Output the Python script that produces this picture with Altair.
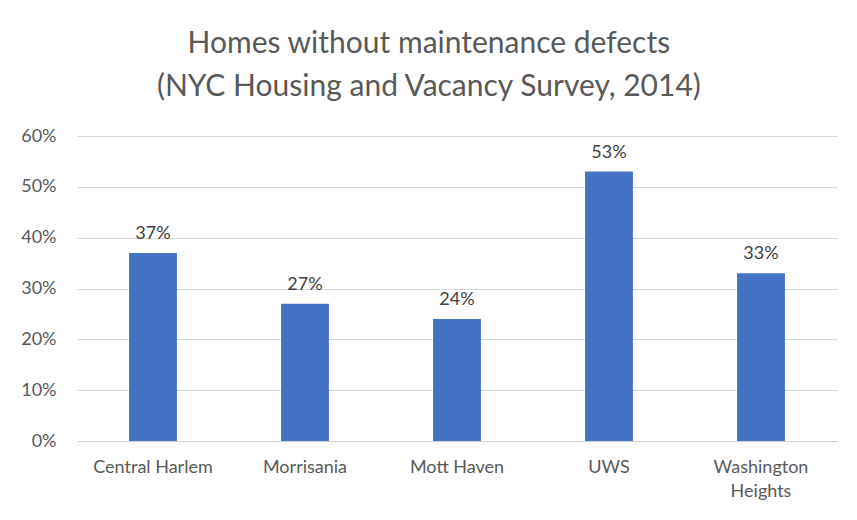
import altair as alt
import pandas as pd

neighborhoods = ["Central Harlem", "Morrisania", "Mott Haven", "UWS", "Washington Heights"]
shares = [0.37, 0.27, 0.24, 0.53, 0.33]
y_ticks = [0, 0.1, 0.2, 0.3, 0.4, 0.5, 0.6]

df = pd.DataFrame({"neighborhood": neighborhoods, "share": shares})

FONT = "Lato"
GREY = "#595959"

x = alt.X(
    "neighborhood:N",
    sort=neighborhoods,
    title=None,
    scale=alt.Scale(paddingInner=0.685, paddingOuter=0.3425),
    axis=alt.Axis(
        labelAngle=0,
        labelFontSize=18,
        labelColor=GREY,
        labelFont=FONT,
        labelPadding=17,
        labelLineHeight=24,
        labelExpr="length(datum.label) > 15 ? split(datum.label, ' ') : datum.label",
        ticks=False,
        domain=True,
        domainColor="#d0d0d0",
        domainWidth=1,
        grid=False,
    ),
)

y = alt.Y(
    "share:Q",
    title=None,
    scale=alt.Scale(domain=[0, 0.6], nice=False),
    axis=alt.Axis(
        values=y_ticks,
        format=".0%",
        labelFontSize=18,
        labelColor=GREY,
        labelFont=FONT,
        labelPadding=21,
        ticks=False,
        domain=False,
        grid=True,
        gridColor="#d9d9d9",
        gridWidth=1,
    ),
)

bars = alt.Chart(df).mark_bar(color="#4472C4").encode(x=x, y=y)

labels = alt.Chart(df).mark_text(
    baseline="bottom", dy=-10, fontSize=18, font=FONT, color="#404040"
).encode(
    x=alt.X("neighborhood:N", sort=neighborhoods),
    y=alt.Y("share:Q"),
    text=alt.Text("share:Q", format=".0%"),
)

chart = (
    alt.layer(bars, labels)
    .properties(
        width=760,
        height=305,
        padding={"left": 12, "top": 21, "right": 10, "bottom": 5},
        title=alt.TitleParams(
            text=["Homes without maintenance defects", "(NYC Housing and Vacancy Survey, 2014)"],
            fontSize=30,
            font=FONT,
            fontWeight="normal",
            color=GREY,
            lineHeight=43,
            anchor="middle",
            frame="bounds",
            offset=25,
        ),
    )
    .configure(background="white")
    .configure_view(strokeWidth=0)
)

chart.save("out.html", embed_options={"renderer": "svg", "actions": False})
